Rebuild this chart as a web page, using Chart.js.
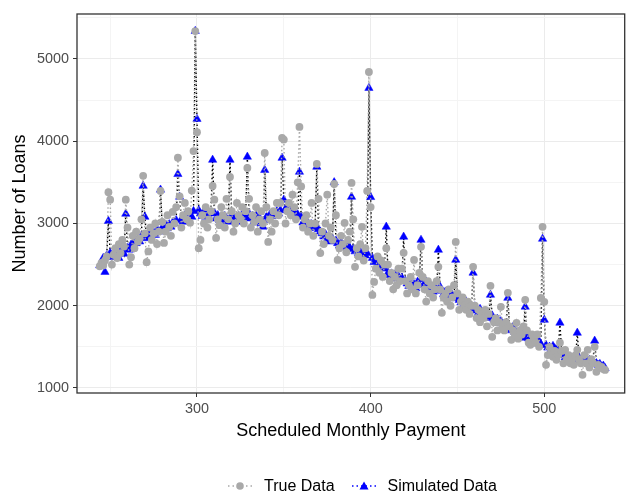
<!DOCTYPE html>
<html>
<head>
<meta charset="utf-8">
<script src="https://cdn.jsdelivr.net/npm/chart.js@4.4.1/dist/chart.umd.min.js"></script>
<style>
  html, body { margin: 0; padding: 0; background: #ffffff; }
  #wrap { position: relative; width: 630px; height: 494px; }
  #legend {
    position: absolute; left: 227px; top: 476px; height: 20px;
    display: flex; align-items: center;
    font-family: "Liberation Sans", Arial, Helvetica, sans-serif;
    font-size: 16px; color: #000;
  }
  .item { display: flex; align-items: center; margin-right: 16px; }
  .item svg { margin-right: 11px; }
</style>
</head>
<body>
<div id="wrap">
  <canvas id="chart" width="630" height="494"></canvas>
  <div id="legend">
    <div class="item">
      <svg width="26" height="14" viewBox="0 0 26 14">
        <line x1="1" y1="7" x2="25" y2="7" stroke="#a9a9a9" stroke-width="1.5" stroke-dasharray="1.5,3"/>
        <circle cx="13" cy="7" r="3.8" fill="#a9a9a9"/>
      </svg>
      <span>True Data</span>
    </div>
    <div class="item">
      <svg width="26" height="14" viewBox="0 0 26 14">
        <line x1="1" y1="7" x2="25" y2="7" stroke="#0000ff" stroke-width="1.5" stroke-dasharray="1.5,3"/>
        <polygon points="13,2.5 17.5,10.5 8.5,10.5" fill="#0000ff"/>
      </svg>
      <span>Simulated Data</span>
    </div>
  </div>
</div>
<script>
// Scheduled monthly payment (USD), one entry per dollar starting at 244
const firstPayment = 244;

// Observed loan counts per payment value
const trueLoans = [
  2480, 2520, 2490, 2550, 2600, 3380,
  3290, 2500, 2620, 2700, 2580, 2750, 2640, 2800, 2720, 3290,
  2950, 2500, 2590, 2850, 2700, 2900, 2780, 2820, 3050, 3580,
  2880, 2530, 2660, 2950, 2800, 2880, 3000, 2750, 2900, 3396,
  3020, 2764, 2900, 3100, 2960, 2850, 3140, 3000, 3200, 3800,
  3330, 2950, 3100, 3250, 3050, 3150, 3010, 3400, 3880, 5340,
  4110, 2700, 2800, 3100, 3000, 3200, 2950, 3050, 3150, 3457,
  3290, 2825, 3050, 2980, 3200, 3100, 2950, 3300, 3050, 3566,
  3150, 2900, 3000, 3250, 3100, 3050, 3200, 3000, 3150, 3675,
  3300, 2950, 3100, 3020, 3200, 2900, 3050, 3150, 3000, 3857,
  3200, 2776, 3050, 2900, 3150, 3000, 3250, 3100, 3250, 4040,
  4020, 3000, 3150, 3250, 3100, 3350, 3200, 3050, 3500, 4174,
  3450, 2950, 3050, 3100, 2900, 3000, 3250, 2850, 3000, 3724,
  3300, 2640, 2900, 2750, 3000, 3350, 2850, 2950, 2800, 3480,
  3100, 2557, 2700, 2850, 2750, 3007, 2650, 2800, 2900, 3493,
  3050, 2473, 2700, 2600, 2750, 2960, 2550, 2700, 3396, 4842,
  3200, 2132, 2290, 2450, 2600, 2400, 2550, 2350, 2500, 2700,
  2500, 2300, 2400, 2200, 2350, 2250, 2450, 2300, 2450, 2643,
  2300, 2150, 2250, 2350, 2200, 2557, 2150, 2250, 2400, 2716,
  2350, 2200, 2050, 2300, 2150, 2250, 2100, 2200, 2300, 2473,
  2200, 1914, 2100, 2150, 2050, 2200, 2000, 2100, 2250, 2776,
  2150, 1950, 2050, 2100, 2000, 1950, 2050, 1900, 2000, 2473,
  2000, 1850, 1950, 1800, 1900, 1850, 1950, 1750, 1900, 2242,
  1622, 1800, 1850, 1700, 1800, 1987, 1750, 1700, 1800, 2157,
  1750, 1585, 1700, 1650, 1792, 1600, 1700, 1650, 1750, 2072,
  1700, 1550, 1525, 1650, 1600, 1550, 1650, 1500, 2095, 2959,
  2047, 1282, 1400, 1500, 1450, 1380, 1450, 1342, 1400, 1550,
  1450, 1300, 1464, 1350, 1400, 1300, 1350, 1282, 1400, 1464,
  1350, 1300, 1160, 1400, 1300, 1464, 1250, 1350, 1300, 1500,
  1197, 1280, 1250, 1257, 1230, 1220
];

// Simulated loan counts per payment value
const simulatedLoans = [
  2490, 2530, 2580, 2410, 2610, 3030,
  2640, 2590, 2600, 2620, 2660, 2580, 2650, 2700, 2630, 3117,
  2700, 2680, 2740, 2720, 2790, 2760, 2810, 2780, 2850, 3457,
  3080, 2820, 2870, 2840, 2900, 2880, 2860, 2930, 2900, 3410,
  2950, 2920, 2980, 2940, 2990, 2960, 3010, 3000, 3040, 3600,
  3323, 3050, 3020, 3090, 3130, 3060, 3110, 3080, 3150, 5340,
  4270, 3160, 3120, 3090, 3140, 3080, 3110, 3070, 3120, 3773,
  3130, 3060, 3100, 3040, 3080, 3030, 3090, 3060, 3020, 3773,
  3100, 3040, 3060, 3020, 3090, 3050, 3110, 3070, 3080, 3810,
  3120, 3060, 3090, 3030, 3100, 3010, 3070, 3000, 2960, 3650,
  3080, 3040, 3110, 3090, 3130, 3100, 3150, 3120, 3160, 3797,
  3287, 3180, 3200, 3150, 3190, 3120, 3140, 3090, 3110, 3627,
  3080, 3010, 3040, 2980, 3000, 2950, 2990, 2940, 2960, 3688,
  2930, 2900, 2880, 2840, 2870, 2800, 2830, 2780, 2810, 3500,
  2790, 2760, 2730, 2770, 2740, 2710, 2760, 2740, 2700, 3323,
  2690, 2660, 2680, 2640, 2660, 2620, 2650, 2610, 2640, 4647,
  3320, 2580, 2530, 2550, 2500, 2520, 2470, 2490, 2450, 2959,
  2400, 2370, 2390, 2350, 2380, 2330, 2360, 2310, 2340, 2838,
  2300, 2270, 2240, 2280, 2230, 2260, 2210, 2290, 2250, 2800,
  2320, 2270, 2290, 2240, 2260, 2200, 2170, 2220, 2190, 2679,
  2230, 2180, 2140, 2170, 2120, 2150, 2100, 2130, 2090, 2557,
  2110, 2070, 2040, 2080, 2020, 2050, 1990, 2010, 1960, 2400,
  1990, 1940, 1910, 1960, 1880, 1920, 1860, 1900, 1850, 2132,
  1880, 1830, 1800, 1840, 1790, 1810, 1760, 1780, 1740, 2095,
  1720, 1700, 1740, 1680, 1660, 1620, 1690, 1640, 1610, 1987,
  1650, 1600, 1580, 1620, 1560, 1590, 1540, 1570, 1530, 2813,
  1828, 1520, 1490, 1500, 1470, 1510, 1480, 1460, 1440, 1792,
  1430, 1400, 1370, 1390, 1360, 1380, 1350, 1370, 1340, 1670,
  1370, 1340, 1360, 1330, 1350, 1310, 1340, 1300, 1320, 1573,
  1300, 1280, 1290, 1260, 1270, 1240
];

// Axis tick positions: labelled majors and unlabelled minors
const xMajorTicks = [300, 400, 500];
const xMinorTicks = [250, 350, 450];
const yMajorTicks = [1000, 2000, 3000, 4000, 5000];
const yMinorTicks = [1500, 2500, 3500, 4500, 5500];

const payments = trueLoans.map((_, i) => firstPayment + i);
const truePoints = payments.map((p, i) => ({ x: p, y: trueLoans[i] }));
const simPoints = payments.map((p, i) => ({ x: p, y: simulatedLoans[i] }));

const FONT = '"Liberation Sans", Arial, Helvetica, sans-serif';
const GRAY = '#a9a9a9';

const isMajor = (list, v) => list.includes(v);

// Full rectangle around the plotting panel
const panelBorder = {
  id: 'panelBorder',
  afterDraw(chart) {
    const { ctx, chartArea: a } = chart;
    ctx.save();
    ctx.strokeStyle = '#333333';
    ctx.lineWidth = 1.3;
    ctx.strokeRect(a.left, a.top, a.right - a.left, a.bottom - a.top);
    ctx.restore();
  }
};

new Chart(document.getElementById('chart'), {
  type: 'scatter',
  data: {
    datasets: [
      {
        label: 'True Data',
        data: truePoints,
        showLine: true,
        borderColor: GRAY,
        borderWidth: 1.4,
        borderDash: [1.5, 2.5],
        pointStyle: 'circle',
        pointRadius: 3.9,
        pointBackgroundColor: GRAY,
        pointBorderWidth: 0,
        pointBorderColor: GRAY
      },
      {
        label: 'Simulated Data',
        data: simPoints,
        showLine: true,
        borderColor: '#000000',
        borderWidth: 1.4,
        borderDash: [1.5, 2.5],
        pointStyle: 'triangle',
        pointRadius: 4.8,
        pointBackgroundColor: '#0000ff',
        pointBorderWidth: 0.5,
        pointBorderColor: '#0000ff'
      }
    ]
  },
  options: {
    responsive: false,
    animation: false,
    devicePixelRatio: 1,
    layout: { padding: { top: 14, right: 1, left: 0, bottom: 0 } },
    plugins: { legend: { display: false }, tooltip: { enabled: false } },
    scales: {
      x: {
        type: 'linear',
        min: 230.9,
        max: 546.3,
        afterBuildTicks(scale) {
          scale.ticks = [...xMinorTicks, ...xMajorTicks].sort((a, b) => a - b).map(v => ({ value: v }));
        },
        afterFit(scale) { scale.height = 101; },
        border: { display: false },
        grid: {
          color: c => isMajor(xMajorTicks, c.tick.value) ? '#ebebeb' : '#f4f4f4',
          lineWidth: 1,
          tickColor: c => isMajor(xMajorTicks, c.tick.value) ? '#333333' : 'rgba(0,0,0,0)',
          tickLength: 4
        },
        ticks: {
          autoSkip: false,
          maxRotation: 0,
          padding: 3,
          color: '#4d4d4d',
          font: { family: FONT, size: 14.4 },
          callback: v => isMajor(xMajorTicks, v) ? String(v) : ''
        },
        title: {
          display: true,
          text: 'Scheduled Monthly Payment',
          color: '#000',
          font: { family: FONT, size: 18 },
          padding: { top: 0, bottom: 52 }
        }
      },
      y: {
        type: 'linear',
        min: 939,
        max: 5547,
        afterBuildTicks(scale) {
          scale.ticks = [...yMajorTicks, ...yMinorTicks].sort((a, b) => a - b).map(v => ({ value: v }));
        },
        afterFit(scale) { scale.width = 77; },
        border: { display: false },
        grid: {
          color: c => isMajor(yMajorTicks, c.tick.value) ? '#ebebeb' : '#f4f4f4',
          lineWidth: 1,
          tickColor: c => isMajor(yMajorTicks, c.tick.value) ? '#333333' : 'rgba(0,0,0,0)',
          tickLength: 4
        },
        ticks: {
          autoSkip: false,
          padding: 4,
          color: '#4d4d4d',
          font: { family: FONT, size: 14.4 },
          callback: v => isMajor(yMajorTicks, v) ? String(v) : ''
        },
        title: {
          display: true,
          text: 'Number of Loans',
          color: '#000',
          font: { family: FONT, size: 18 },
          padding: { top: 9, bottom: 0 }
        }
      }
    }
  },
  plugins: [panelBorder]
});
</script>
</body>
</html>
